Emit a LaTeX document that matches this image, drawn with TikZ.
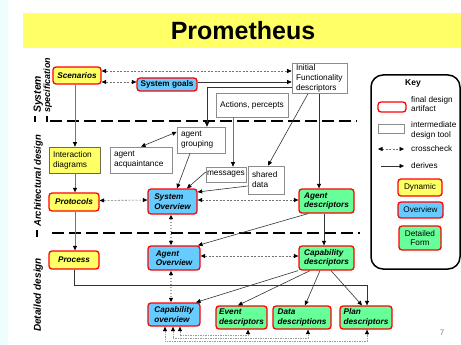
\documentclass[tikz,border=0pt]{standalone}
\usepackage{fontspec}
\setmainfont{Liberation Sans}
\usetikzlibrary{arrows.meta,calc}

\definecolor{stripcol}{HTML}{EEFEFF}
\definecolor{yel}{HTML}{FFFF66}
\definecolor{blu}{HTML}{66CCFF}
\definecolor{grn}{HTML}{66FF99}
\definecolor{frame}{HTML}{FF0000}

\begin{document}
\begin{tikzpicture}[x=1pt,y=-1pt,
  final/.style={draw=frame, line width=1.3pt, rounded corners=3pt, align=left,
    inner sep=1pt, font=\fontsize{8.2}{9.5}\selectfont\bfseries\itshape},
  finalup/.style={final, font=\fontsize{8.2}{9.5}\selectfont\bfseries},
  interm/.style={draw=black!45, line width=0.7pt, fill=white, align=left,
    inner xsep=4pt, inner ysep=1pt, font=\fontsize{8.3}{10}\selectfont},
  keytxt/.style={anchor=west, align=left, inner sep=0pt, font=\fontsize{8.2}{9.6}\selectfont},
  keybox/.style={draw=frame, line width=1.3pt, rounded corners=3pt, align=center,
    inner sep=1pt, font=\fontsize{8.2}{9.6}\selectfont},
  phase/.style={rotate=90, anchor=base west, inner sep=0pt, font=\bfseries\itshape},
  tipa/.tip={Triangle[length=4.5pt,width=4pt,color=black]},
  der/.style={draw=black!80, line width=0.6pt, -tipa},
  derg/.style={draw=black!55, line width=0.7pt, -tipa},
  cc/.style={draw=black!55, line width=0.6pt, dash pattern=on 2pt off 1.5pt, tipa-tipa},
  ccv/.style={draw=black!35, line width=1.3pt, dash pattern=on 1.5pt off 1.5pt, tipa-tipa},
  ccb/.style={draw=black!40, line width=0.6pt, dash pattern=on 1.5pt off 1pt, tipa-tipa},
  divider/.style={draw=black, line width=2pt, dash pattern=on 12pt off 5pt},
  bar/.style={draw=black, line width=1.3pt}
]
\useasboundingbox (0,0) rectangle (461,345);
\fill[white] (0,0) rectangle (461,345);
\fill[stripcol] (0,0) rectangle (8,345);

% title
\fill[yel] (23,13) rectangle (461,48);
\node[font=\fontsize{25}{30}\selectfont\bfseries] (title) at (243,31) {Prometheus};

% phase labels on the left
\node[phase, font=\fontsize{10.4}{12}\selectfont\bfseries\itshape] (lsys) at (41,113) {System};
\node[phase, font=\fontsize{9}{11}\selectfont\bfseries\itshape] (lspec) at (50,113) {specification};
\node[phase, font=\fontsize{9.5}{11}\selectfont\bfseries\itshape] (larch) at (41,227) {Architectural design};
\node[phase, font=\fontsize{10}{12}\selectfont\bfseries\itshape] (ldet) at (41,332) {Detailed design};
\draw[bar] (35,116) -- (35,122);
\draw[bar] (47,116) -- (47,122);
\draw[bar] (37,230) -- (37,237);

% phase dividers
\draw[divider] (50,121) -- (357,121);
\draw[divider] (52,233) -- (360,233);

% system specification
\node[final, fill=yel, minimum width=48, minimum height=17] (scen) at (77,75.5) {Scenarios};
\node[finalup, fill=blu, minimum width=60, minimum height=13] (goals) at (167,84.5) {System goals};
\node[interm, text width=47, minimum height=29] (ifd) at (319.5,78.5) {Initial\\Functionality\\descriptors};
\node[interm, minimum width=72, minimum height=24] (act) at (252,105) {Actions, percepts};

% architectural design
\node[interm, text width=40, minimum height=26] (grp) at (201,140) {agent\\grouping};
\node[interm, text width=54, minimum height=26] (acq) at (141,160) {agent\\acquaintance};
\node[interm, fill=yel, draw=black!50!yellow!70!black, text width=43, minimum height=26] (idg) at (74.5,160) {Interaction\\diagrams};
\node[interm, inner xsep=1pt, text width=38, minimum height=15] (msg) at (226,174.5) {messages};
\node[interm, text width=28, minimum height=28] (shd) at (266,180) {shared\\data};
\node[final, fill=blu, minimum width=49, minimum height=25] (so) at (172.5,201.5) {System\\Overview};
\node[final, fill=grn, minimum width=55, minimum height=24] (ad) at (326.5,201) {Agent\\descriptors};
\node[final, fill=yel, minimum width=50, minimum height=18] (prot) at (74,202) {Protocols};

% detailed design
\node[final, fill=yel, minimum width=50, minimum height=18] (proc) at (74,260) {Process};
\node[final, fill=blu, minimum width=52, minimum height=24] (ao) at (174,258) {Agent\\Overview};
\node[final, fill=grn, minimum width=55, minimum height=24] (cd) at (326.5,258) {Capability\\descriptors};
\node[final, fill=blu, minimum width=52, minimum height=23] (co) at (174,314.5) {Capability\\overview};
\node[final, fill=grn, minimum width=51, minimum height=23] (ev) at (241.5,317.5) {Event\\descriptors};
\node[final, fill=grn, minimum width=58, minimum height=23] (dd) at (302,317.5) {Data\\descriptions};
\node[final, fill=grn, minimum width=52, minimum height=23] (pd) at (366,317.5) {Plan\\descriptors};

% crosschecks
\draw[cc] ([yshift=4.5]scen.east) -- ([yshift=7.5]ifd.west);
\draw[cc] ([yshift=-6.5]scen.east) -- ([yshift=2.5]goals.west);
\draw[cc] ([yshift=1.5]prot.east) -- ([yshift=1.5]so.west);
\draw[cc] ([yshift=1.5]so.east) -- ([yshift=1]ad.west);
\draw[cc] ([yshift=2]ao.east) -- ([yshift=2]cd.west);
\draw[ccv] ([xshift=-1.5]so.south) -- ([xshift=-3]ao.north);
\draw[ccv] ([xshift=-3]ao.south) -- ([xshift=-3]co.north);
\draw[ccb] ([xshift=6]co.south) |- ([xshift=6.5,yshift=-6]ev.south) -- ([xshift=6.5]ev.south);
\draw[ccb] ([xshift=-1]co.south) |- ([xshift=6,yshift=-9]dd.south) -- ([xshift=6]dd.south);
\draw[ccb] ([xshift=-9]co.south) |- ([xshift=1,yshift=-12]pd.south) -- ([xshift=1]pd.south);

% derivations
\draw[der] ([yshift=2.5]goals.east) -- ([yshift=-3.5]ifd.west);
\draw[der] ([yshift=-8.5]ifd.west) -| ([xshift=6]grp.north);
\draw[derg] ([xshift=-19]act.south) -- ([xshift=7]msg.north);
\draw[der] ([xshift=-11.5]ifd.south) -- ([xshift=2]shd.north);
\draw[der] ([xshift=-0.5]ifd.south) -- ([xshift=-7.5]ad.north);
\draw[der, tipa-tipa] ([yshift=8]grp.west) -- (acq.north);
\draw[der] ([xshift=-11]grp.south) -- ([xshift=4.5]so.north);
\draw[der] ([yshift=2.5]msg.west) -- ([xshift=14.5]so.north);
\draw[der] ([yshift=-6]shd.west) -- ([yshift=9.5]so.east);
\draw[derg] ([xshift=-2]scen.south) -- ([xshift=0.5]idg.north);
\draw[derg] ([xshift=0.5]idg.south) -- ([xshift=1]prot.north);
\draw[derg] ([xshift=1]prot.south) -- ([xshift=1]proc.north);
\draw[der] ([xshift=-18.5]ad.south) -- ([xshift=24]ao.north);
\draw[der] ([xshift=-2.5]ad.south) -- ([xshift=-2.5]cd.north);
\draw[der] ([xshift=-28.5]cd.south) -- ([xshift=22]co.north);
\draw[der] ([xshift=-16.5]cd.south) -- ([xshift=-3.5]ev.north);
\draw[der] ([xshift=-6.5]cd.south) -- ([xshift=3]dd.north);
\draw[der] ([xshift=4.5]cd.south) -- ([xshift=-4]pd.north);
\draw[der] (proc.south) -- ++(0,16) -| ([xshift=1]pd.north);

% key
\node[draw=black, line width=1.5pt, rounded corners=12pt, minimum width=89, minimum height=194] (key) at (415.5,172) {};
\node[font=\fontsize{8.5}{10}\selectfont\bfseries] (keyt) at (413,83) {Key};
\node[keybox, fill=white, minimum width=28, minimum height=10] (kfin) at (392,107) {};
\node[keytxt] (kfint) at (411,104) {final design\\artifact};
\node[draw=black!45, line width=0.7pt, minimum width=26, minimum height=9, inner sep=0pt] (kint) at (391,128.5) {};
\node[keytxt] (kintt) at (411,130.5) {intermediate\\design tool};
\coordinate (kc1) at (378,149);
\coordinate (kc2) at (404,149);
\draw[cc] (kc1) -- (kc2);
\node[keytxt] (kcct) at (411,149) {crosscheck};
\coordinate (kd1) at (381,166);
\coordinate (kd2) at (404,166);
\draw[der] (kd1) -- (kd2);
\node[keytxt] (kdt) at (411,166) {derives};
\node[keybox, fill=yel, minimum width=44, minimum height=17] (kdyn) at (420,187.5) {Dynamic};
\node[keybox, fill=blu, minimum width=45, minimum height=16] (kov) at (420.5,210) {Overview};
\node[keybox, fill=grn, minimum width=42, minimum height=24] (kdf) at (420,238) {Detailed\\Form};

% page number
\node[text=black!50, font=\fontsize{8}{9}\selectfont] (pg) at (442,333) {7};
\end{tikzpicture}
\end{document}
